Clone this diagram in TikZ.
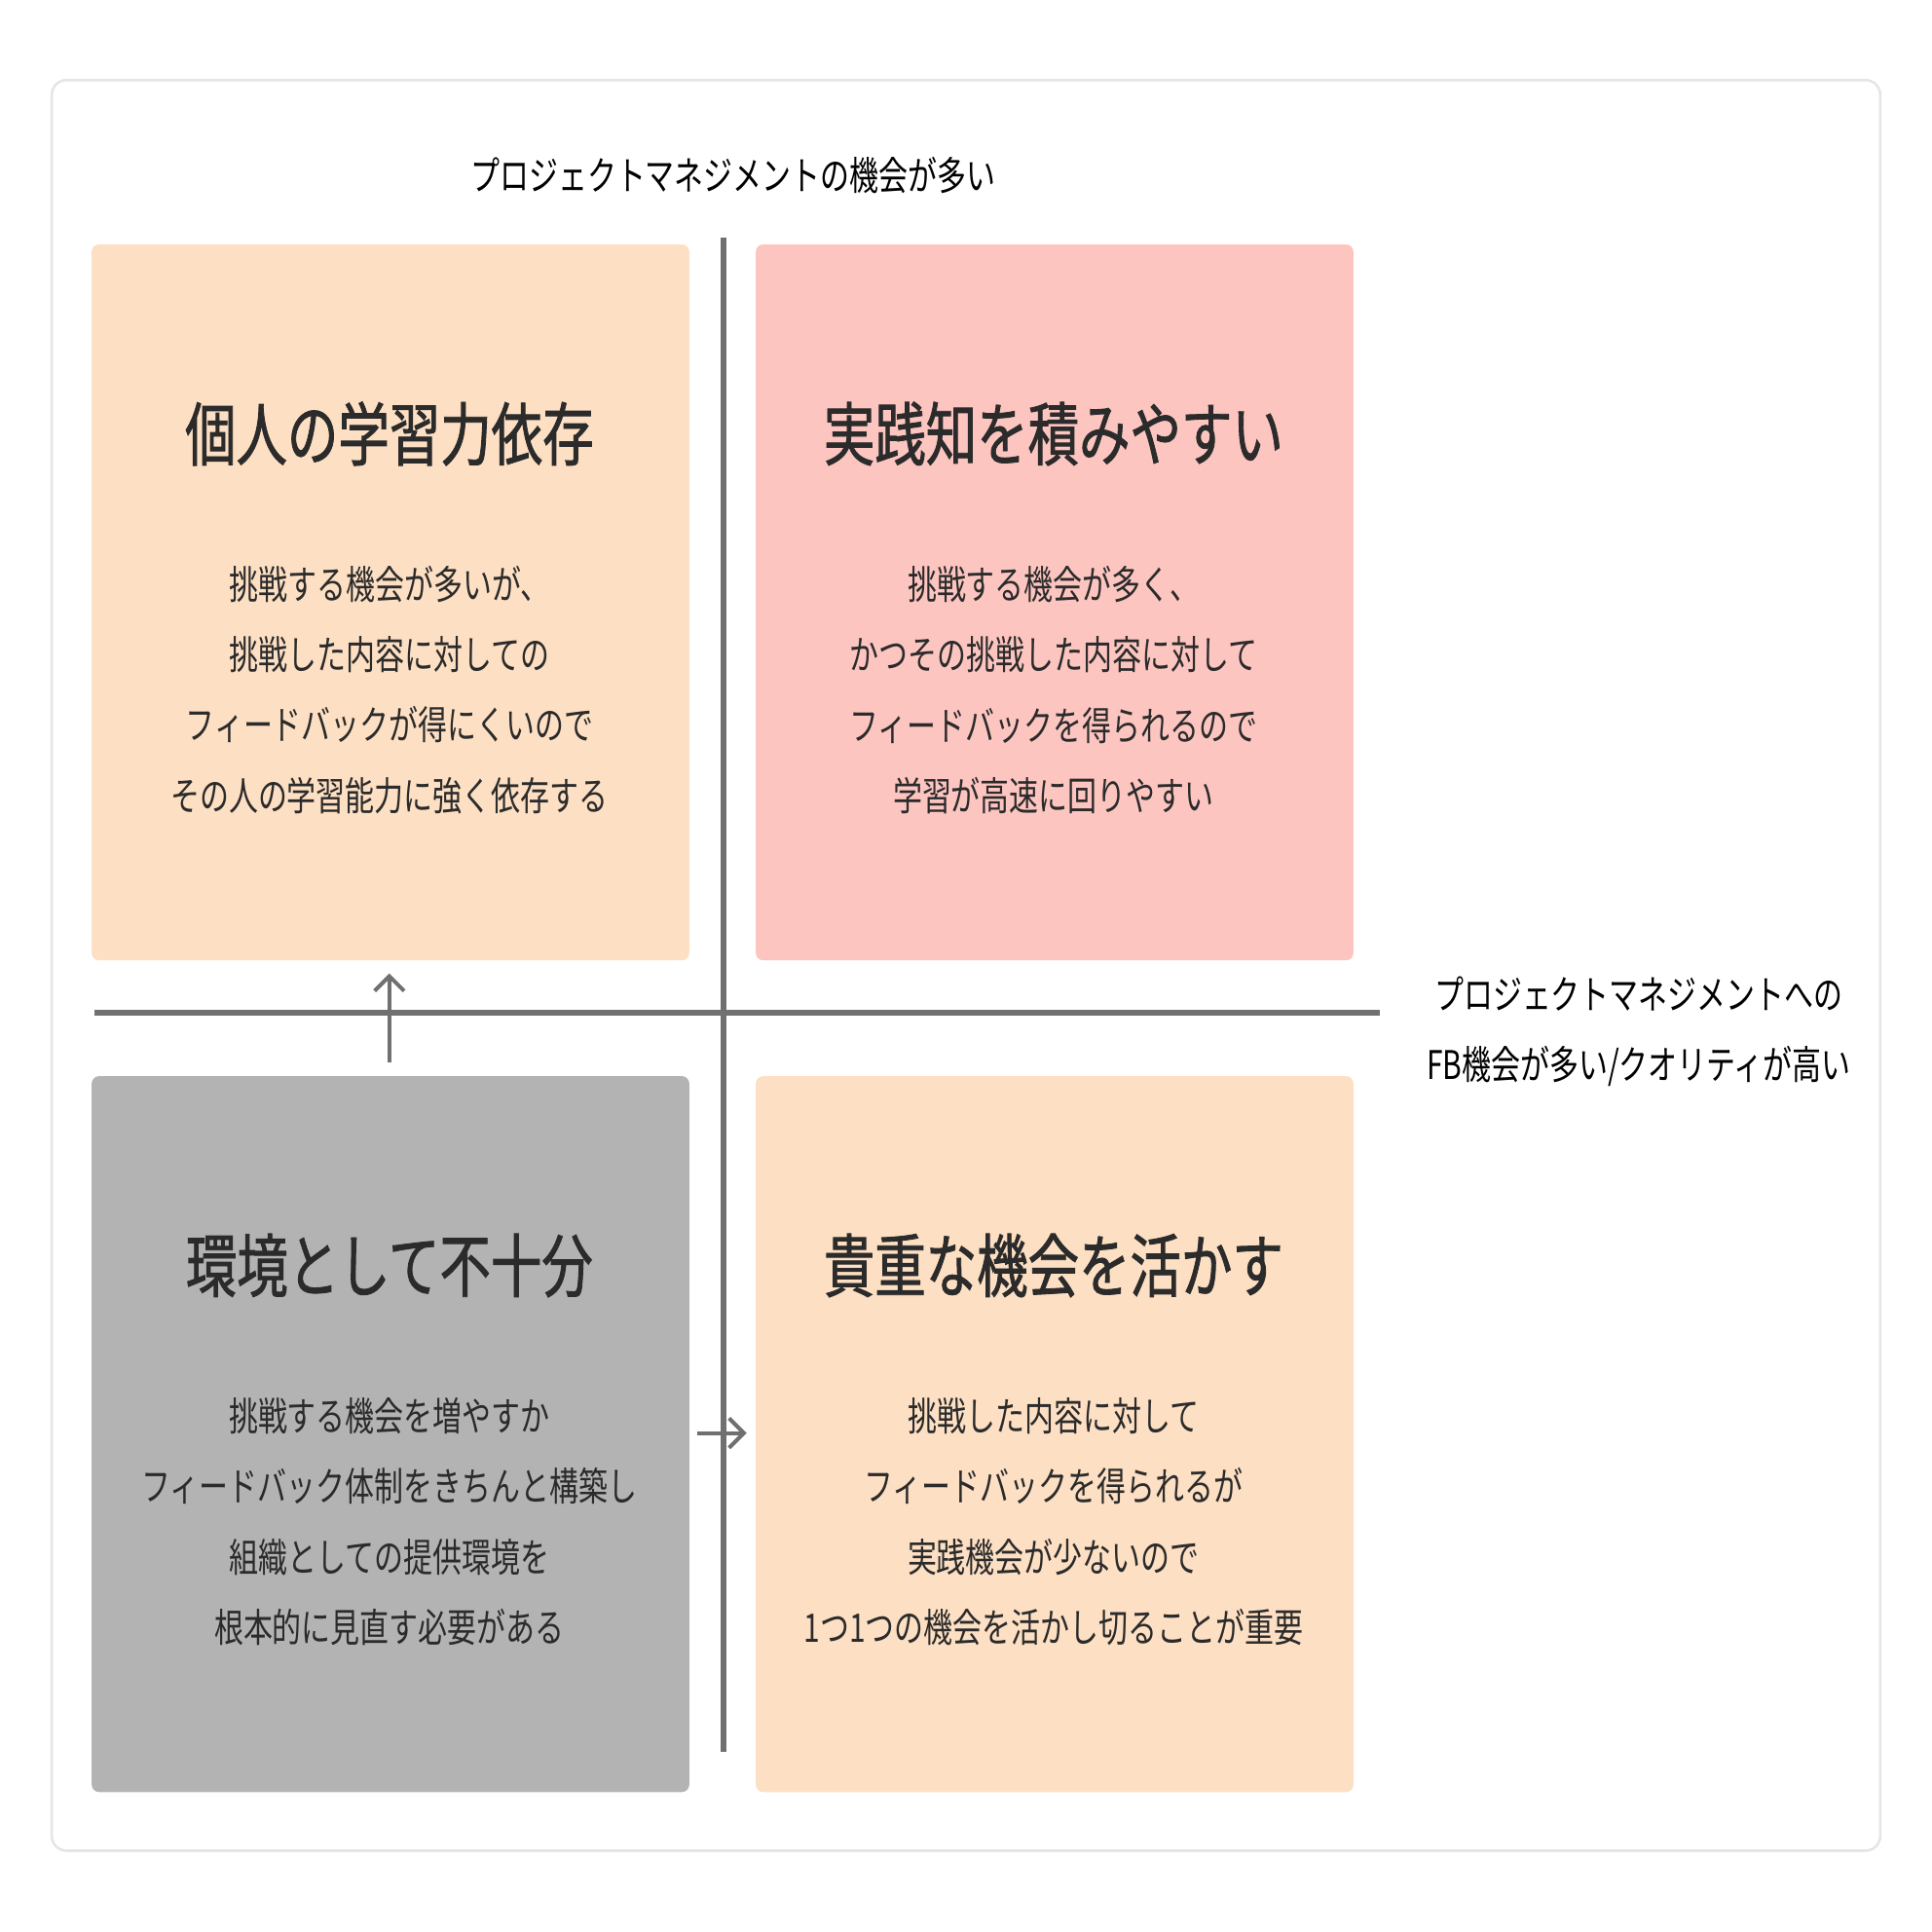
\documentclass[tikz,border=0pt]{standalone}
\usepackage{fontspec}
\setmainfont[FakeStretch=0.74]{Noto Sans CJK JP}
\newfontfamily\tfont[FakeStretch=0.74,FakeBold=1.2]{Noto Sans CJK JP}
\usetikzlibrary{arrows.meta}
\definecolor{peach}{HTML}{FDDFC3}
\definecolor{pinkc}{HTML}{FDC5C0}
\definecolor{grayc}{HTML}{B3B3B3}
\definecolor{axis}{HTML}{707070}
\definecolor{txt}{HTML}{2B2B2B}
\begin{document}
\begin{tikzpicture}[x=0.5pt,y=-0.5pt,
  quad/.style={draw=none,rounded corners=3pt,minimum width=242.5pt,minimum height=290.5pt,anchor=north west,inner sep=0pt},
  ttl/.style={font=\tfont\fontsize{28pt}{32pt}\selectfont,text=txt},
  body/.style={font=\fontsize{16pt}{28.5pt}\selectfont,align=center,text=txt},
  lbl/.style={font=\fontsize{16pt}{28.5pt}\selectfont,align=center,text=black},
  ax/.style={draw=axis,line width=2.5pt},
  arr/.style={draw=axis,line width=1.6pt,-{Straight Barb[length=6pt,width=12pt]}}]
\useasboundingbox (0,0) rectangle (1568,1568);
\fill[white] (0,0) rectangle (1568,1568);
\draw[draw=black!10,line width=1pt,rounded corners=6pt] (42,65) rectangle (1526,1502);
\node[lbl] (top) at (595,142) {プロジェクトマネジメントの機会が多い};
\node[lbl] (right) at (1330,837) {プロジェクトマネジメントへの\\FB機会が多い/クオリティが高い};
\node[quad,fill=peach] (tl) at (74,198) {};
\node[quad,fill=pinkc] (tr) at (613,198) {};
\node[quad,fill=grayc] (bl) at (74,873) {};
\node[quad,fill=peach] (br) at (613,873) {};
\coordinate (vt) at (587,193); \coordinate (vb) at (587,1422);
\coordinate (hl) at (77,822); \coordinate (hr) at (1120,822);
\draw[ax] (vt) -- (vb);
\draw[ax] (hl) -- (hr);
\coordinate (ua) at (316,862); \coordinate (ub) at (316,790);
\draw[arr] (ua) -- (ub);
\coordinate (ra) at (566,1163); \coordinate (rb) at (606,1163);
\draw[arr] (ra) -- (rb);
\node[ttl] (t1) at (316,352) {個人の学習力依存};
\node[body] (b1) at (316,560) {挑戦する機会が多いが、\\挑戦した内容に対しての\\フィードバックが得にくいので\\その人の学習能力に強く依存する};
\node[ttl] (t2) at (855,352) {実践知を積みやすい};
\node[body] (b2) at (855,560) {挑戦する機会が多く、\\かつその挑戦した内容に対して\\フィードバックを得られるので\\学習が高速に回りやすい};
\node[ttl] (t3) at (316,1027) {環境として不十分};
\node[body] (b3) at (316,1235) {挑戦する機会を増やすか\\フィードバック体制をきちんと構築し\\組織としての提供環境を\\根本的に見直す必要がある};
\node[ttl] (t4) at (855,1027) {貴重な機会を活かす};
\node[body] (b4) at (855,1235) {挑戦した内容に対して\\フィードバックを得られるが\\実践機会が少ないので\\1つ1つの機会を活かし切ることが重要};
\end{tikzpicture}
\end{document}
